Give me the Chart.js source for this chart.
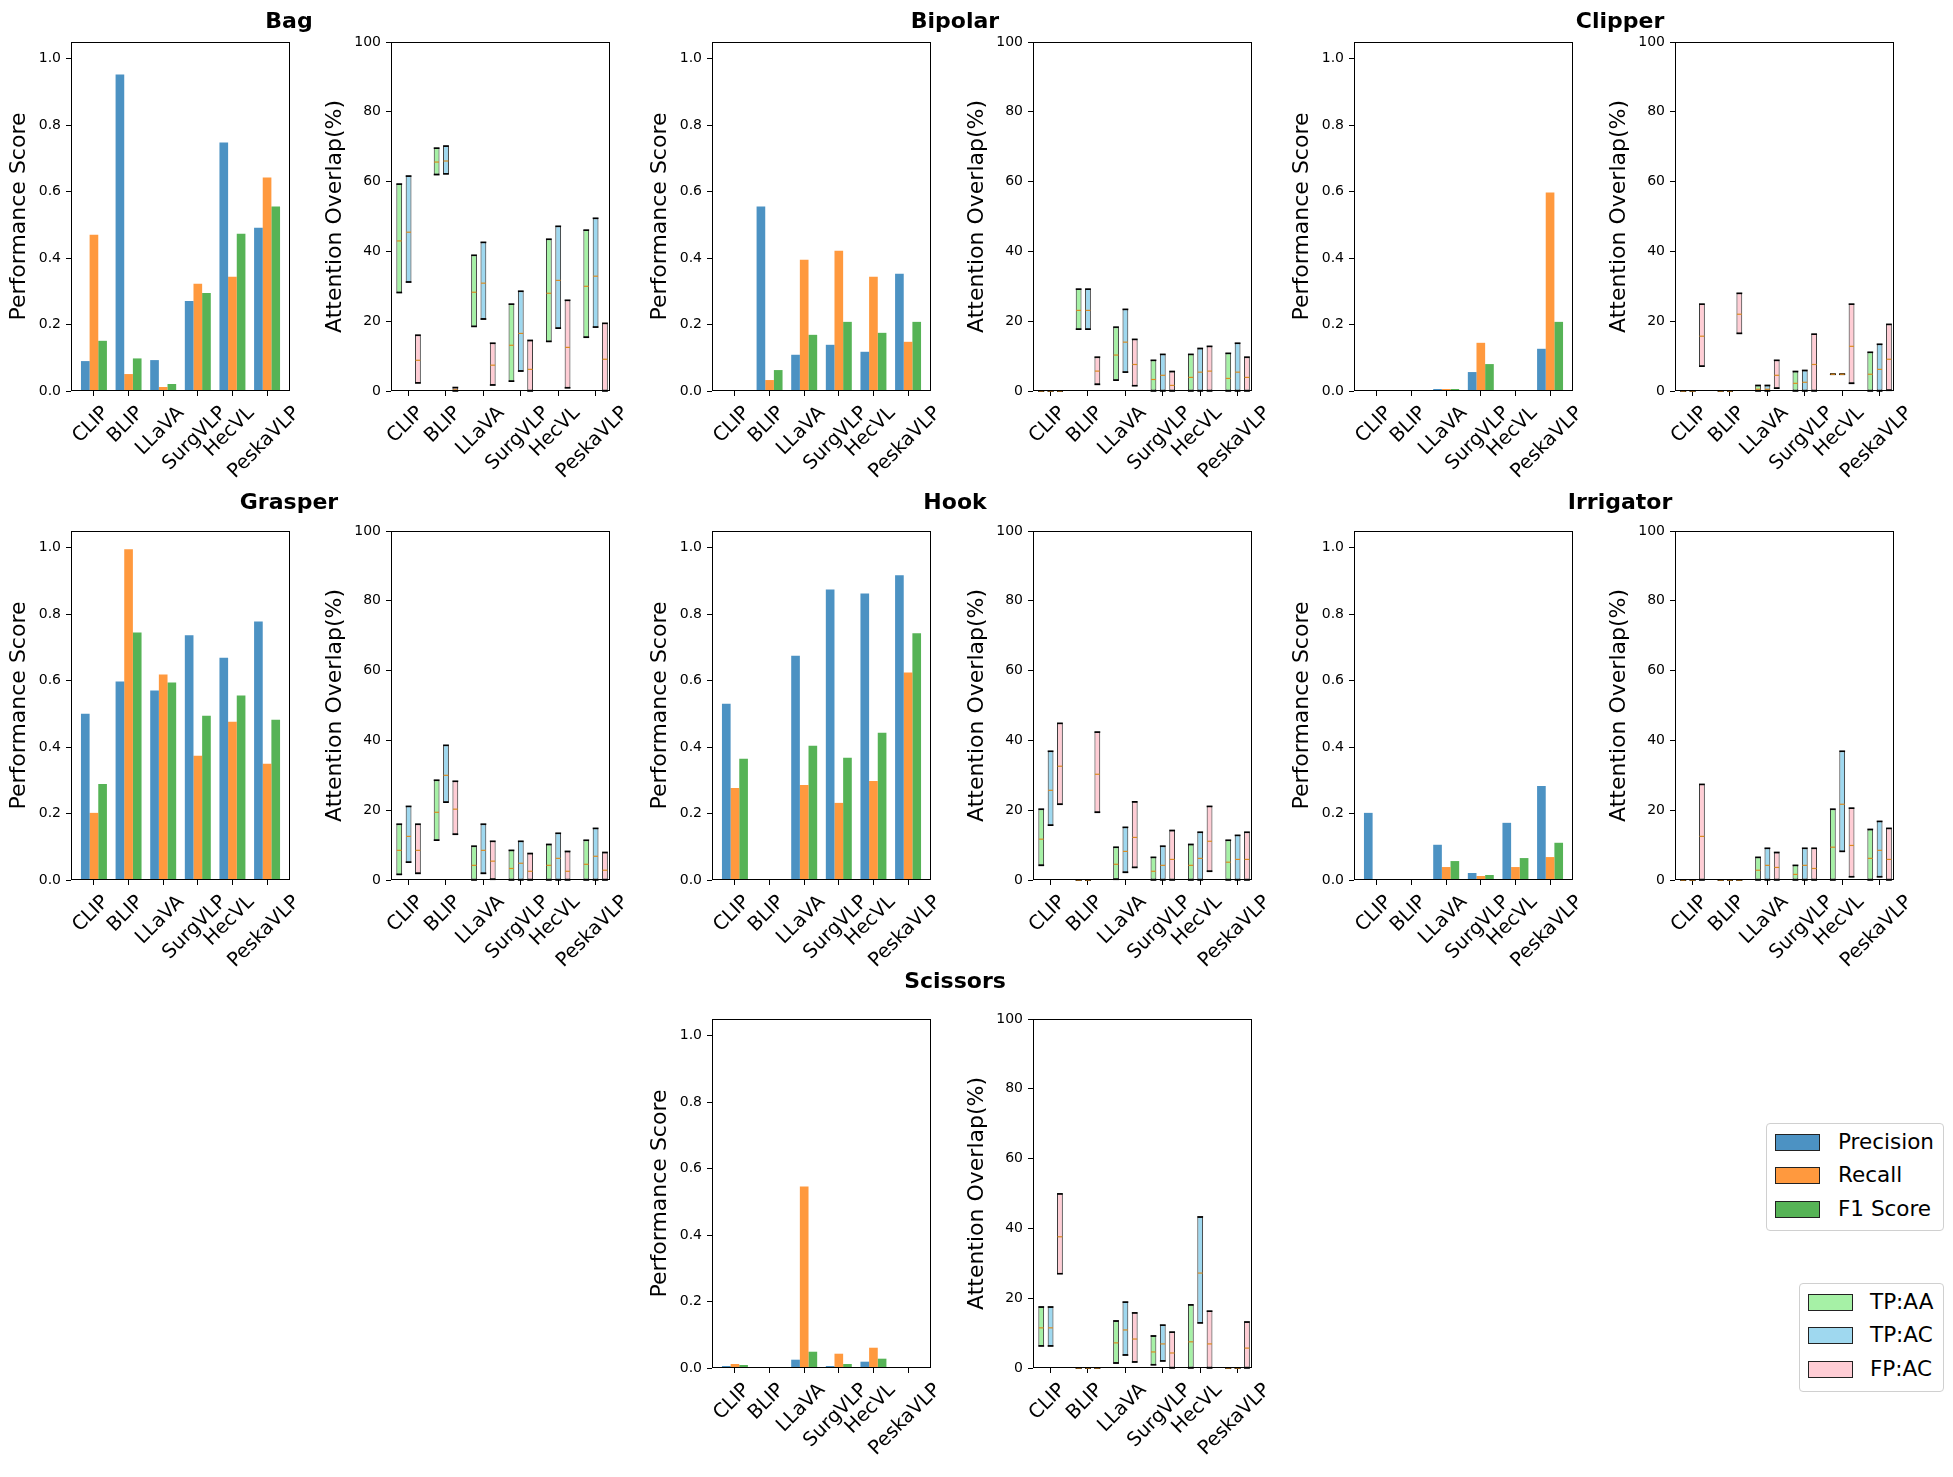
<!DOCTYPE html>
<html>
<head>
<meta charset="utf-8">
<script src="https://cdn.jsdelivr.net/npm/chart.js@4.4.1/dist/chart.umd.min.js"></script>
<style>
  body { margin: 0; width: 1953px; height: 1477px; position: relative; overflow: hidden; background: #fff; font-family: "DejaVu Sans", sans-serif; }
  canvas { position: absolute; }
  .title { position: absolute; font-weight: bold; font-size: 22px; transform: translate(-50%, -50%); white-space: nowrap; }
  .legend { position: absolute; border: 1px solid #d0d0d0; border-radius: 4px; background: rgba(255,255,255,0.8); box-sizing: border-box; }
  .legend .item { position: absolute; left: 0; height: 24px; font-size: 21.5px; line-height: 24px; white-space: nowrap; }
  .legend .patch { position: absolute; top: 3px; width: 45px; height: 17px; box-sizing: border-box; border: 1px solid #222; }
  .legend .label { position: absolute; top: -1px; }
</style>
</head>
<body>
<script>
const FONT = '"DejaVu Sans"';

const models = ['CLIP', 'BLIP', 'LLaVA', 'SurgVLP', 'HecVL', 'PeskaVLP'];
const instruments = ['Bag', 'Bipolar', 'Clipper', 'Grasper', 'Hook', 'Irrigator', 'Scissors'];
const scoreTicks = [0, 0.2, 0.4, 0.6, 0.8, 1.0];
const overlapTicks = [0, 20, 40, 60, 80, 100];

// bar chart values, one row per instrument (order as in instruments)
const precision = [
  [0.090, 0.952, 0.093, 0.271, 0.748, 0.491],
  [0, 0.555, 0.109, 0.139, 0.118, 0.353],
  [0, 0, 0.006, 0.057, 0.003, 0.127],
  [0.500, 0.597, 0.570, 0.736, 0.669, 0.778],
  [0.530, 0, 0.675, 0.874, 0.862, 0.917],
  [0.202, 0, 0.106, 0.021, 0.172, 0.283],
  [0.006, 0, 0.025, 0.006, 0.019, 0.003]
];
const recall = [
  [0.470, 0.051, 0.012, 0.323, 0.344, 0.642],
  [0, 0.033, 0.395, 0.422, 0.344, 0.148],
  [0, 0, 0.006, 0.145, 0.003, 0.597],
  [0.202, 0.995, 0.618, 0.374, 0.476, 0.350],
  [0.277, 0, 0.286, 0.232, 0.298, 0.624],
  [0, 0, 0.039, 0.012, 0.039, 0.069],
  [0.012, 0, 0.546, 0.043, 0.061, 0.003]
];
const f1 = [
  [0.151, 0.098, 0.021, 0.295, 0.473, 0.555],
  [0, 0.063, 0.169, 0.208, 0.175, 0.208],
  [0, 0, 0.006, 0.081, 0.003, 0.208],
  [0.289, 0.745, 0.594, 0.494, 0.555, 0.482],
  [0.365, 0, 0.404, 0.368, 0.443, 0.742],
  [0.003, 0, 0.057, 0.015, 0.066, 0.112],
  [0.009, 0, 0.049, 0.012, 0.028, 0.003]
];

// attention overlap boxes: low / high / median
const aaLow = [
  [28.2, 62.0, 18.5, 2.8, 14.2, 15.4],
  [0, 17.7, 3.1, 0, 0, 0],
  [0, 0, 0, 0, 4.8, 0],
  [1.6, 11.4, 0, 0, 0, 0],
  [4.2, 0, 0.2, 0, 0, 0],
  [0, 0, 0, 0, 0, 0],
  [6.3, 0, 1.4, 0.9, 0, 0]
];
const aaHigh = [
  [59.3, 69.6, 38.9, 24.9, 43.5, 46.1],
  [0, 29.2, 18.3, 8.8, 10.5, 10.8],
  [0, 0, 1.6, 5.6, 4.8, 11.1],
  [16.0, 28.6, 9.7, 8.5, 10.2, 11.4],
  [20.3, 0, 9.4, 6.5, 10.2, 11.4],
  [0, 0, 6.5, 4.2, 20.3, 14.5],
  [17.5, 0, 13.5, 9.2, 18.1, 0]
];
const aaMed = [
  [43.0, 65.6, 28.3, 13.1, 28.0, 30.0],
  [0, 23.1, 10.3, 3.3, 3.9, 3.6],
  [0, 0, 0.5, 2.2, 4.8, 4.8],
  [8.5, 19.4, 4.2, 3.3, 4.2, 4.5],
  [11.7, 0, 4.5, 2.5, 4.2, 5.1],
  [0, 0, 2.8, 1.6, 9.4, 6.2],
  [11.5, 0, 7.2, 4.6, 7.5, 0]
];
const acLow = [
  [31.2, 62.2, 20.6, 5.7, 18.0, 18.3],
  [0, 17.7, 5.4, 0, 0, 0],
  [0, 0, 0, 0, 4.8, 0],
  [5.1, 22.3, 1.9, 0, 0, 0],
  [15.7, 0, 2.2, 0, 0, 0],
  [0, 0, 0, 0, 8.2, 0.9],
  [6.3, 0, 3.7, 2.0, 12.9, 0]
];
const acHigh = [
  [61.6, 70.2, 42.6, 28.6, 47.2, 49.5],
  [0, 29.2, 23.4, 10.5, 12.2, 13.7],
  [0, 0, 1.6, 5.9, 4.8, 13.4],
  [21.1, 38.6, 16.0, 11.1, 13.4, 14.8],
  [36.9, 0, 15.1, 9.7, 13.7, 12.8],
  [0, 0, 9.1, 9.1, 36.9, 16.8],
  [17.5, 0, 18.9, 12.3, 43.3, 0]
];
const acMed = [
  [45.5, 65.9, 30.9, 16.5, 31.7, 32.9],
  [0, 23.1, 14.0, 4.5, 5.4, 5.4],
  [0, 0, 0.5, 2.5, 4.8, 6.2],
  [12.5, 30.0, 8.5, 4.8, 6.2, 6.8],
  [25.7, 0, 8.2, 4.2, 6.2, 5.9],
  [0, 0, 4.2, 4.2, 21.7, 8.5],
  [11.5, 0, 10.9, 6.9, 27.2, 0]
];
const fpLow = [
  [2.3, 0, 1.7, 0, 0.9, 0],
  [0, 1.9, 1.5, 0, 0, 0],
  [7.1, 16.5, 0.8, 0, 2.2, 0.2],
  [1.9, 13.1, 0.2, 0, 0, 0],
  [21.7, 19.4, 3.6, 0, 2.5, 0],
  [0, 0, 0, 0, 0.9, 0],
  [27.0, 0, 1.7, 0, 0, 0]
];
const fpHigh = [
  [16.0, 1.0, 13.7, 14.5, 26.0, 19.4],
  [0, 9.7, 14.8, 5.6, 12.8, 9.7],
  [24.9, 28.0, 8.8, 16.3, 24.9, 19.1],
  [16.0, 28.3, 11.1, 7.6, 8.2, 7.9],
  [44.9, 42.4, 22.4, 14.2, 21.1, 13.7],
  [27.4, 0, 7.9, 9.1, 20.6, 14.8],
  [49.9, 0, 15.8, 10.3, 16.3, 13.2]
];
const fpMed = [
  [8.8, 0.3, 7.4, 6.2, 12.5, 9.1],
  [0, 5.7, 7.6, 1.6, 5.7, 3.9],
  [15.7, 22.0, 4.5, 7.6, 12.8, 9.1],
  [8.5, 20.3, 5.4, 2.5, 2.5, 2.8],
  [32.6, 30.3, 12.2, 5.9, 11.1, 5.9],
  [12.5, 0, 3.6, 3.3, 9.9, 5.9],
  [37.6, 0, 8.3, 4.3, 6.9, 5.7]
];

// layout (px)
const AX_W = 219, AX_H = 349;
const PAD_L = 85, PAD_T = 15, PAD_R = 45, PAD_B = 100;
const rowTops = [42, 530.5, 1019];
const barLefts = [71, 712, 1354];
const boxLefts = [391, 1033, 1675];
const titleX = [289, 955, 1620];
const titleY = [20, 501, 980];
const cells = [[0, 0], [0, 1], [0, 2], [1, 0], [1, 1], [1, 2], [2, 1]];
const LABEL_SIZE = 19.5;

const barColors = ['rgba(31,119,180,0.8)', 'rgba(255,127,14,0.8)', 'rgba(44,160,44,0.8)'];
const boxColors = ['rgba(144,238,144,0.8)', 'rgba(135,206,235,0.8)', 'rgba(255,192,203,0.8)'];
const MEDIAN = '#dc8c22';

// frame + matplotlib-style rotated labels centred on each tick
const framePlugin = {
  id: 'frame',
  afterDraw(chart) {
    const { ctx, chartArea: a } = chart;
    const xs = chart.scales.x;
    ctx.save();
    ctx.strokeStyle = '#000';
    ctx.lineWidth = 1;
    ctx.strokeRect(Math.round(a.left) + 0.5, Math.round(a.top) + 0.5, Math.round(a.width) - 1, Math.round(a.height) - 1);
    ctx.font = LABEL_SIZE + 'px ' + FONT;
    ctx.fillStyle = '#000';
    ctx.textAlign = 'center';
    ctx.textBaseline = 'middle';
    models.forEach((m, i) => {
      const w = ctx.measureText(m).width;
      const half = (w / 2 + 0.37 * LABEL_SIZE) * Math.SQRT1_2;
      ctx.save();
      ctx.translate(xs.getPixelForValue(i) - 3, a.bottom + 14 + half);
      ctx.rotate(-Math.PI / 4);
      ctx.fillText(m, 0, 0);
      ctx.restore();
    });
    ctx.restore();
  }
};

// caps and median line on each floating box
const boxPlugin = {
  id: 'boxes',
  afterDatasetsDraw(chart) {
    const { ctx } = chart;
    const ys = chart.scales.y;
    const hline = (x0, x1, y) => { ctx.beginPath(); ctx.moveTo(x0, y); ctx.lineTo(x1, y); ctx.stroke(); };
    ctx.save();
    chart.data.datasets.forEach((ds, d) => {
      chart.getDatasetMeta(d).data.forEach((el, i) => {
        const half = el.width / 2;
        const [lo, hi] = ds.data[i].y;
        ctx.strokeStyle = '#000';
        ctx.lineWidth = 1.6;
        hline(el.x - half, el.x + half, ys.getPixelForValue(lo));
        hline(el.x - half, el.x + half, ys.getPixelForValue(hi));
        ctx.strokeStyle = MEDIAN;
        ctx.lineWidth = 1.2;
        hline(el.x - half + 0.5, el.x + half - 0.5, ys.getPixelForValue(ds.medians[i]));
      });
    });
    ctx.restore();
  }
};

function xAxis(min, max) {
  return {
    type: 'linear', min, max, offset: false,
    afterBuildTicks: s => { s.ticks = models.map((m, i) => ({ value: i })); },
    afterFit: s => { s.height = PAD_B; },
    ticks: { display: false },
    grid: { drawOnChartArea: false, drawTicks: true, tickLength: 5, color: '#000', offset: false },
    border: { display: false }
  };
}

function yAxis(max, ticks, title, titlePad, fmt) {
  return {
    type: 'linear', min: 0, max,
    afterBuildTicks: s => { s.ticks = ticks.map(v => ({ value: v })); },
    afterFit: s => { s.width = PAD_L; },
    ticks: { color: '#000', font: { family: FONT, size: 14 }, padding: 5, callback: fmt },
    grid: { drawOnChartArea: false, drawTicks: true, tickLength: 5, color: '#000' },
    border: { display: false },
    title: { display: true, text: title, color: '#000', font: { family: FONT, size: 22 }, padding: { top: titlePad, bottom: 0 } }
  };
}

function makeCanvas(axLeft, axTop) {
  const c = document.createElement('canvas');
  const w = PAD_L + AX_W + PAD_R, h = PAD_T + AX_H + PAD_B;
  c.width = w; c.height = h;
  c.style.width = w + 'px'; c.style.height = h + 'px';
  c.style.left = (axLeft - PAD_L) + 'px';
  c.style.top = (axTop - PAD_T) + 'px';
  document.body.appendChild(c);
  return c;
}

const baseOptions = {
  responsive: false, animation: false, devicePixelRatio: 1,
  layout: { padding: { left: 0, top: PAD_T, right: PAD_R, bottom: 0 } },
  plugins: { legend: { display: false }, tooltip: { enabled: false } }
};

instruments.forEach((name, k) => {
  const [r, c] = cells[k];
  const top = rowTops[r];

  // performance bars
  const series = [precision[k], recall[k], f1[k]];
  new Chart(makeCanvas(barLefts[c], top), {
    type: 'bar',
    data: {
      datasets: ['Precision', 'Recall', 'F1 Score'].map((label, s) => ({
        label,
        data: series[s].map((v, i) => ({ x: i, y: v })),
        backgroundColor: barColors[s],
        borderWidth: 0,
        categoryPercentage: 0.75,
        barPercentage: 1.0
      }))
    },
    options: {
      ...baseOptions,
      scales: {
        x: xAxis(-0.6625, 5.6625),
        y: yAxis(1.05, scoreTicks, 'Performance Score', 19.8, v => v.toFixed(1))
      }
    },
    plugins: [framePlugin]
  });

  // attention overlap boxes
  const lows = [aaLow[k], acLow[k], fpLow[k]];
  const highs = [aaHigh[k], acHigh[k], fpHigh[k]];
  const meds = [aaMed[k], acMed[k], fpMed[k]];
  new Chart(makeCanvas(boxLefts[c], top), {
    type: 'bar',
    data: {
      datasets: ['TP:AA', 'TP:AC', 'FP:AC'].map((label, s) => ({
        label,
        data: lows[s].map((lo, i) => ({ x: i, y: [lo, highs[s][i]] })),
        medians: meds[s],
        backgroundColor: boxColors[s],
        borderColor: '#333',
        borderWidth: 1,
        borderSkipped: false,
        categoryPercentage: 0.75,
        barPercentage: 0.62
      }))
    },
    options: {
      ...baseOptions,
      scales: {
        x: xAxis(-0.47, 5.385),
        y: yAxis(100, overlapTicks, 'Attention Overlap(%)', 15.8, v => String(v))
      }
    },
    plugins: [boxPlugin, framePlugin]
  });

  const t = document.createElement('div');
  t.className = 'title';
  t.textContent = name;
  t.style.left = titleX[c] + 'px';
  t.style.top = titleY[r] + 'px';
  document.body.appendChild(t);
});

// legends
function legend(left, top, width, height, patchLeft, textLeft, rowY, labels, colors) {
  const box = document.createElement('div');
  box.className = 'legend';
  Object.assign(box.style, { left: left + 'px', top: top + 'px', width: width + 'px', height: height + 'px' });
  labels.forEach((lab, i) => {
    const item = document.createElement('div');
    item.className = 'item';
    item.style.top = (rowY[i] - top - 12) + 'px';
    const p = document.createElement('div');
    p.className = 'patch';
    p.style.left = (patchLeft - left) + 'px';
    p.style.background = colors[i];
    const l = document.createElement('div');
    l.className = 'label';
    l.style.left = (textLeft - left) + 'px';
    l.textContent = lab;
    item.appendChild(p); item.appendChild(l);
    box.appendChild(item);
  });
  document.body.appendChild(box);
}
legend(1766, 1123, 178, 108, 1774, 1837, [1142, 1175, 1209], ['Precision', 'Recall', 'F1 Score'], barColors);
legend(1799, 1283, 145, 109, 1807, 1869, [1302, 1335, 1369], ['TP:AA', 'TP:AC', 'FP:AC'], boxColors);
</script>
</body>
</html>
